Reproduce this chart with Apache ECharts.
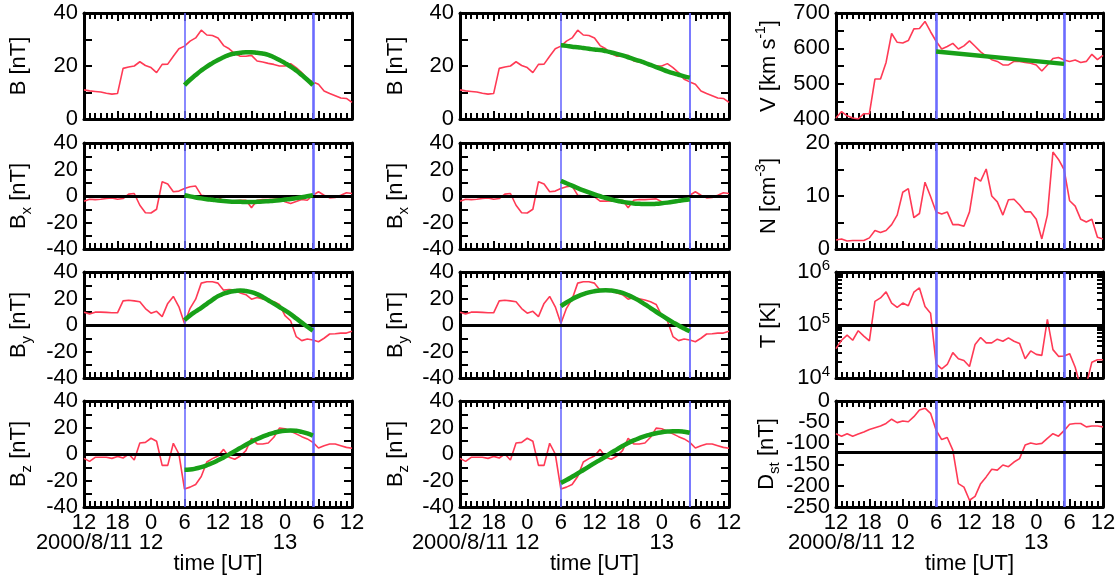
<!DOCTYPE html>
<html><head><meta charset="utf-8">
<script src="https://cdn.jsdelivr.net/npm/echarts@6/dist/echarts.min.js"></script>
<style>html,body{margin:0;padding:0;background:#fff}#c{width:1120px;height:585px}</style>
</head><body><div id="c"></div>
<script>
// ---- data (hours since 2000-08-11 12:00 UT) ----
const hours = [0,1,2,3,4,5,6,7,8,9,10,11,12,13,14,15,16,17,18,19,20,21,22,23,24,25,26,27,28,29,30,31,32,33,34,35,36,37,38,39,40,41,42,43,44,45,46,47,48];
const fitHours = [18,19,20,21,22,23,24,25,26,27,28,29,30,31,32,33,34,35,36,37,38,39,40,41];
const fitVHours = [18, 41];
const mcBounds = [18, 41];
const xTickLabels = ['12','18','0','6','12','18','0','6','12'];
const xDateLabels = ['2000/8/11','','12','','','','13','',''];
const dstLabelsA = [-250, -150, -50];
const dstLabelsB = [-200, -100, 0];

const B  = [11,10.6,10.4,10.2,9.7,9.4,9.6,19.1,19.6,20,21.6,20.2,19.4,17.5,20.6,20.7,23.7,26.5,27.5,29.4,30.6,33.5,31.7,31.5,30.6,27.7,26.5,24.7,23.7,23.7,24,21.9,21.5,21,20.6,20,20,20.9,19.4,17.5,15,14,13.1,10.6,9.6,8.75,7.9,7.75,6.25];
const Bx = [-3.9,-2.4,-2.7,-2.4,-1.9,-1.4,-2.4,-1.9,1.4,1.9,-7,-12.6,-12.8,-10,10.8,9,3.2,3.7,5.7,7,7.5,0.6,-0.1,-0.1,-0.6,-3.9,-3.9,-3.7,-3.2,-3.2,-8.8,-3.2,-2.7,-2.7,-2.4,-2.2,-4.4,-5.7,-4.2,-2.7,-3.2,0.6,3.2,0.6,-1.4,-1.1,0.6,2.4,1.9];
const By = [9.7,8.4,9.7,9.7,9.5,9.2,9.2,18.2,18.7,18.2,17.6,12.4,8.9,10.3,6.3,16.3,21.6,13.7,1.1,12.6,19.5,31.6,32.6,32.6,31.6,26.3,26.8,26.3,24.2,22.9,19.5,20.8,19.7,18.9,17.6,15.5,7.1,3.2,-8.7,-11.8,-10.5,-11.3,-12.6,-10,-6.8,-6.6,-6.1,-6.1,-4.7];
const Bz = [-3.3,-5.6,-2.5,-2.5,-2.5,-3.3,-1.8,-3.0,0,-4.5,8.3,8.8,11.9,9.6,-8.6,-8.6,8.1,0,-26.5,-25,-23,-17,-6,-3.5,-1.5,3.5,-2.5,-4.0,-1.5,2.5,11.9,7.6,7.6,8.3,12.6,19.5,19.0,17.2,15.2,13.1,11.4,8.8,4.5,6.3,7.6,7.6,6.3,5,4.3];
const V  = [403,421,409,403,400,415,415,513,513,560,642,617,615,622,655,656,676,647,620,598,605,614,598,607,621,606,590,578,568,563,553,553,563,563,560,558,553,536,553,571,574,567,563,567,560,563,583,568,580];
const N  = [1.7,1.9,1.5,1.6,1.6,1.6,2.1,3.5,3.1,3.5,4.6,6.4,10.7,11.4,5.9,6.7,12.6,9.9,7.0,6.6,7.0,4.6,4.6,4.3,7.0,13.5,12.8,15.1,10.0,8.9,6.4,9.3,9.4,8.3,7.0,7.0,5.6,1.9,6.4,18.3,16.9,15.0,9.1,8.1,5.6,5.1,5.6,2.2,1.9];
const T  = [35800,51600,64400,51600,78000,61700,50100,279000,324000,421000,259000,214000,259000,231000,415000,501000,224000,167000,18500,14900,18000,30100,23100,21400,16500,42800,58100,45900,45900,54000,49400,57300,49400,44600,23100,32400,27900,26700,128000,34300,25600,26000,28800,16000,6600,7500,19900,22100,22100];
const Dst = [-77,-83,-77,-83,-78,-73,-67,-63,-59,-53,-43,-51,-47,-49,-37,-21,-17,-29,-69,-91,-86,-116,-195,-203,-234,-225,-195,-179,-161,-163,-151,-155,-144,-136,-104,-99,-102,-100,-88,-77,-83,-70,-55,-53,-53,-61,-59,-59,-61];

// fitted flux-rope model curves (left column: model 1, middle column: model 2)
const fitB1  = [12.8,14.8,16.6,18.3,19.8,21.1,22.3,23.3,24.2,24.7,25.0,25.2,25.2,25.0,24.7,24.2,23.3,22.3,21.1,19.8,18.3,16.6,14.8,12.8];
const fitBx1 = [0.6,-0.3,-1.1,-1.8,-2.4,-2.9,-3.4,-3.8,-4.1,-4.3,-4.4,-4.5,-4.5,-4.4,-4.2,-3.9,-3.6,-3.2,-2.7,-2.2,-1.6,-1.0,-0.2,0.6];
const fitBy1 = [3.7,7.2,10.2,13.0,16.0,19.0,21.8,23.6,24.9,25.6,26.0,25.6,24.8,23.3,21.2,18.7,16.2,13.6,11.0,8.2,5.0,1.8,-1.3,-4.2];
const fitBz1 = [-11.9,-11.7,-11.0,-9.9,-8.5,-6.8,-4.8,-2.6,-0.3,2.2,4.6,7.0,9.3,11.3,13.1,14.7,16.0,17.0,17.6,17.8,17.5,16.7,15.5,13.9];
const fitB2  = [27.8,27.6,27.3,27.1,26.8,26.5,26.2,26.0,25.6,25.1,24.6,24.0,23.3,22.6,21.9,21.2,20.4,19.6,18.8,18.0,17.3,16.7,16.1,15.6];
const fitBx2 = [11.4,9.6,7.8,6.0,4.3,2.7,1.2,-0.2,-1.5,-2.6,-3.6,-4.4,-5.1,-5.6,-5.9,-6.1,-6.1,-5.9,-5.5,-5.0,-4.4,-3.7,-3.0,-2.4];
const fitBy2 = [14.2,17.0,19.5,21.6,23.3,24.6,25.5,26.1,26.3,26.0,25.3,24.2,22.6,20.6,18.2,15.6,12.8,10.0,7.2,4.5,2.0,-0.4,-2.6,-4.7];
const fitBz2 = [-21.8,-19.6,-17.2,-14.7,-12.1,-9.5,-6.9,-4.4,-1.9,1.0,3.5,6.0,8.3,10.3,12.0,13.5,14.7,15.7,16.4,16.9,17.2,17.2,16.8,16.0];
const fitV   = [591, 556];

// ---- styling / layout ----
const FONT = '"Liberation Sans", Helvetica, Arial, sans-serif';
const RED = '#ff3a55', GREEN = '#18a018', BLUE = '#6b6bff';
const colLeft = [84, 460, 836], colWidth = [268, 269, 267];
const rowTop = [13, 143, 272, 401], rowH = 106;
const nameGaps = [50, 49, 52];
const blueWidths = [[1.6, 2.6], [1.6, 1.8], [2.6, 2.6]];
const TICK = {color: '#000', width: 2};
const RICH = {
  m:   {fontFamily: FONT, fontSize: 22, color: '#000', lineHeight: 30},
  sub: {fontFamily: FONT, fontSize: 15, color: '#000', lineHeight: 14, verticalAlign: 'bottom'},
  sup: {fontFamily: FONT, fontSize: 14, color: '#000', lineHeight: 14, verticalAlign: 'top'}
};
const LOGRICH = {
  b: {fontFamily: FONT, fontSize: 22, color: '#000', lineHeight: 28},
  p: {fontFamily: FONT, fontSize: 15, color: '#000', lineHeight: 14, verticalAlign: 'top'}
};

const yB  = {min: 0, max: 40, interval: 10, step: 20};
const yBc = {min: -40, max: 40, interval: 10, step: 20};
const panels = [
  {col:0,row:0,red:B, fx:fitHours,fit:fitB1, y:yB, name:'{m|B [nT]}'},
  {col:0,row:1,red:Bx,fx:fitHours,fit:fitBx1,y:yBc,name:'{m|B}{sub|x}{m| [nT]}',ref:0},
  {col:0,row:2,red:By,fx:fitHours,fit:fitBy1,y:yBc,name:'{m|B}{sub|y}{m| [nT]}',ref:0},
  {col:0,row:3,red:Bz,fx:fitHours,fit:fitBz1,y:yBc,name:'{m|B}{sub|z}{m| [nT]}',ref:0},
  {col:1,row:0,red:B, fx:fitHours,fit:fitB2, y:yB, name:'{m|B [nT]}'},
  {col:1,row:1,red:Bx,fx:fitHours,fit:fitBx2,y:yBc,name:'{m|B}{sub|x}{m| [nT]}',ref:0},
  {col:1,row:2,red:By,fx:fitHours,fit:fitBy2,y:yBc,name:'{m|B}{sub|y}{m| [nT]}',ref:0},
  {col:1,row:3,red:Bz,fx:fitHours,fit:fitBz2,y:yBc,name:'{m|B}{sub|z}{m| [nT]}',ref:0},
  {col:2,row:0,red:V, fx:fitVHours,fit:fitV,y:{min:400,max:700,interval:50,step:100},name:'{m|V [km s}{sup|-1}{m|]}'},
  {col:2,row:1,red:N, y:{min:0,max:20,interval:5,step:10},name:'{m|N [cm}{sup|-3}{m|]}'},
  {col:2,row:2,red:T, y:{log:true,min:1e4,max:1e6},name:'{m|T [K]}',ref:1e5},
  {col:2,row:3,red:Dst,y:{min:-250,max:0,interval:50,labelsA:dstLabelsA,labelsB:dstLabelsB},name:'{m|D}{sub|st}{m| [nT]}',ref:-120}
];

function pairs(xs, ys) { return xs.map((x, i) => [x, ys[i]]); }
const LBL = {show: true, margin: 6, fontFamily: FONT, fontSize: 22, color: '#000',
             showMinLabel: true, showMaxLabel: true, hideOverlap: false};

const grids = [], xAxes = [], yAxes = [], series = [];

panels.forEach(p => {
  const gi = grids.length;
  grids.push({left: colLeft[p.col], top: rowTop[p.row], width: colWidth[p.col], height: rowH});
  const bottom = p.row === 3;
  const xi = xAxes.length;
  ['bottom', 'top'].forEach(pos => {
    const lab = pos === 'bottom' && bottom;
    xAxes.push({
      gridIndex: gi, type: 'value', position: pos, min: 0, max: 48, interval: 6,
      splitLine: {show: false},
      axisLine: {show: true, onZero: false, lineStyle: {color: '#000', width: 3}},
      axisTick: {show: true, inside: true, length: 8, lineStyle: TICK},
      minorTick: {show: true, splitNumber: 6, length: 6, lineStyle: TICK},
      axisLabel: lab ? Object.assign({}, LBL, {lineHeight: 20, formatter: v => xTickLabels[Math.round(v / 6)]}) : {show: false},
      name: lab ? 'time [UT]' : '', nameLocation: 'middle', nameGap: 46,
      nameTextStyle: {fontFamily: FONT, fontSize: 22, color: '#000'}
    });
  });
  if (bottom) {
    // second row of time labels (dates)
    xAxes.push({
      gridIndex: gi, type: 'value', position: 'bottom', offset: 20, min: 0, max: 48, interval: 6,
      splitLine: {show: false}, axisLine: {show: false, onZero: false}, axisTick: {show: false},
      axisLabel: Object.assign({}, LBL, {lineHeight: 20, formatter: v => xDateLabels[Math.round(v / 6)]})
    });
  }
  const yi = yAxes.length;
  ['left', 'right'].forEach(pos => {
    const lab = pos === 'left';
    const ax = {
      gridIndex: gi, type: p.y.log ? 'log' : 'value', position: pos, min: p.y.min, max: p.y.max,
      splitLine: {show: false},
      axisLine: {show: true, onZero: false, lineStyle: {color: '#000', width: 3}},
      axisTick: {show: true, inside: true, length: 8, lineStyle: TICK},
      axisLabel: {show: false}
    };
    if (p.y.log) ax.logBase = 10; else ax.interval = p.y.interval;
    if (lab) {
      if (p.y.log) {
        ax.axisLabel = Object.assign({}, LBL, {formatter: v => '{b|10}{p|' + Math.round(Math.log10(v)) + '}', rich: LOGRICH});
      } else if (p.y.labelsA) {
        ax.axisLabel = Object.assign({}, LBL, {customValues: p.y.labelsA, formatter: v => String(v)});
      } else {
        ax.axisLabel = Object.assign({}, LBL, {formatter: v => (Math.round(v) % p.y.step === 0 ? String(v) : '')});
      }
      ax.name = p.name; ax.nameLocation = 'middle'; ax.nameGap = nameGaps[p.col]; ax.nameRotate = 90;
      ax.nameTextStyle = {fontFamily: FONT, fontSize: 22, color: '#000', rich: RICH};
    }
    yAxes.push(ax);
  });
  if (p.y.labelsB) {
    yAxes.push({gridIndex: gi, type: 'value', position: 'left', min: p.y.min, max: p.y.max, interval: p.y.interval,
      splitLine: {show: false}, axisLine: {show: false, onZero: false}, axisTick: {show: false},
      axisLabel: Object.assign({}, LBL, {customValues: p.y.labelsB, formatter: v => String(v)})});
  }
  if (p.y.log) {
    const minor = [];
    [4, 5].forEach(d => { for (let k = 2; k <= 9; k++) minor.push(d + Math.log10(k)); });
    ['left', 'right'].forEach(pos => {
      yAxes.push({gridIndex: gi, type: 'value', position: pos, min: 4, max: 6,
        splitLine: {show: false}, axisLine: {show: false, onZero: false}, axisLabel: {show: false},
        axisTick: {show: true, inside: true, length: 6, customValues: minor, lineStyle: TICK}});
    });
  }
  const ml = [
    {xAxis: mcBounds[0], lineStyle: {color: BLUE, width: blueWidths[p.col][0], type: 'solid'}},
    {xAxis: mcBounds[1], lineStyle: {color: BLUE, width: blueWidths[p.col][1], type: 'solid'}}
  ];
  if (p.ref !== undefined) ml.push({yAxis: p.ref, lineStyle: {color: '#000', width: 3, type: 'solid'}});
  series.push({
    type: 'line', xAxisIndex: xi, yAxisIndex: yi, data: pairs(hours, p.red),
    showSymbol: false, symbol: 'none', clip: true, z: 2,
    lineStyle: {color: RED, width: 1.6}, animation: false,
    markLine: {silent: true, symbol: ['none', 'none'], label: {show: false}, animation: false, z: 3, data: ml}
  });
  if (p.fit) {
    series.push({
      type: 'line', xAxisIndex: xi, yAxisIndex: yi, data: pairs(p.fx, p.fit),
      showSymbol: false, symbol: 'none', smooth: true, z: 6,
      lineStyle: {color: GREEN, width: 4.5}, animation: false
    });
  }
});

const chart = echarts.init(document.getElementById('c'), null, {renderer: 'canvas'});
chart.setOption({backgroundColor: '#fff', animation: false, grid: grids, xAxis: xAxes, yAxis: yAxes, series: series});
</script>
</body></html>
